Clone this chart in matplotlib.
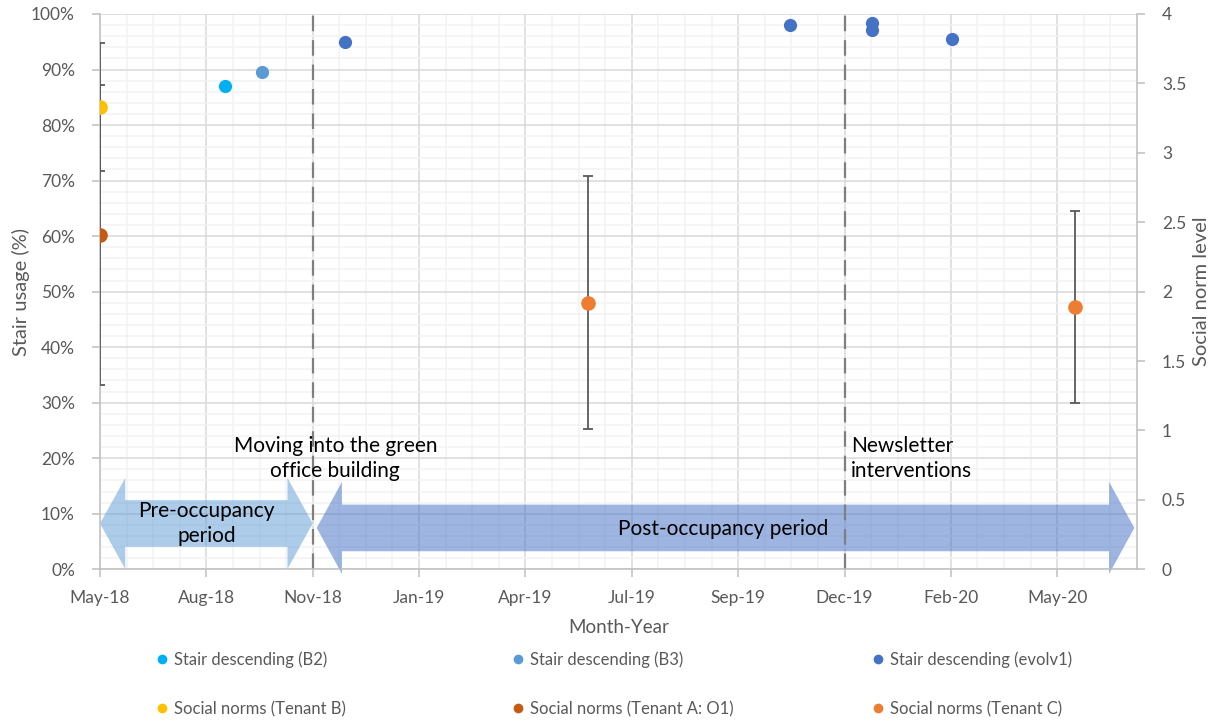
import numpy as np
import matplotlib
matplotlib.use('Agg')
import matplotlib.pyplot as plt
import matplotlib.dates as mdates
from matplotlib.patches import Polygon
from matplotlib.lines import Line2D
from matplotlib.ticker import FixedLocator, MultipleLocator, FuncFormatter

plt.rcParams['font.family'] = ['Lato', 'DejaVu Sans']

# ---- stair usage (% of trips down the stairs) ----
b2_dates = ['2018-08-30']
b2_usage = [87.0]
b3_dates = ['2018-09-27']
b3_usage = [89.6]
evolv_dates = ['2018-11-28', '2019-10-29', '2019-12-30', '2019-12-30', '2020-02-28']
evolv_usage = [95.0, 98.1, 98.3, 97.2, 95.5]

# ---- social norm survey (mean level +/- sd) ----
tenant_b_dates = ['2018-05-28']
tenant_b_norm = [3.33]
tenant_b_sd = [0.46]
tenant_a_dates = ['2018-05-28']
tenant_a_norm = [2.41]
tenant_a_sd = [1.08]
tenant_c_dates = ['2019-05-30', '2020-05-30']
tenant_c_norm = [1.92, 1.89]
tenant_c_sd = [0.91, 0.69]

# ---- time axis / events ----
axis_start = '2018-05-28'
major_step = 80   # days
minor_step = 20   # days
axis_days = 780
move_in = '2018-11-04'
newsletter = '2019-12-09'
post_end = '2020-07-14'

grey_txt = '#595959'
axis_grey = '#BFBFBF'


def dnum(s):
    return mdates.date2num(np.datetime64(s))


def double_arrow(ax, x_left, x_right, yc, shaft, head, head_len, color, alpha):
    # left/right pointing block arrow, like the Office shape
    verts = [(x_left, yc),
             (x_left + head_len, yc + head), (x_left + head_len, yc + shaft),
             (x_right - head_len, yc + shaft), (x_right - head_len, yc + head),
             (x_right, yc),
             (x_right - head_len, yc - head), (x_right - head_len, yc - shaft),
             (x_left + head_len, yc - shaft), (x_left + head_len, yc - head)]
    p = Polygon(verts, closed=True, facecolor=color, edgecolor='none', alpha=alpha,
                clip_on=False, zorder=1)
    ax.add_patch(p)


def to_dates(lst):
    return np.array(lst, dtype='datetime64[D]')


fig = plt.figure(figsize=(12.16, 7.21), dpi=100)
ax = fig.add_axes([100 / 1216, 1 - 569.3 / 721, 1037 / 1216, 555.3 / 721])
ax2 = ax.twinx()

x0 = dnum(axis_start)
ax.set_xlim(x0, x0 + axis_days)
ax.set_ylim(0, 100)
ax2.set_ylim(0, 4)

ax.xaxis.set_major_locator(FixedLocator(x0 + np.arange(0, axis_days, major_step)))
ax.xaxis.set_minor_locator(FixedLocator(x0 + np.arange(0, axis_days + 1, minor_step)))
ax.xaxis.set_major_formatter(mdates.DateFormatter('%b-%y'))
ax.yaxis.set_major_locator(MultipleLocator(10))
ax.yaxis.set_minor_locator(MultipleLocator(2))
ax.yaxis.set_major_formatter(FuncFormatter(lambda v, p: f'{v:.0f}%'))
ax2.yaxis.set_major_locator(MultipleLocator(0.5))
ax2.yaxis.set_major_formatter(FuncFormatter(lambda v, p: f'{v:g}'))

ax.set_axisbelow(True)
ax.grid(which='major', color='#D9D9D9', lw=1.1)
ax.grid(which='minor', color='#F2F2F2', lw=1.1)

for a in (ax, ax2):
    for side in ('top', 'left', 'right', 'bottom'):
        a.spines[side].set_visible(False)
ax.spines['left'].set_visible(True)
ax.spines['bottom'].set_visible(True)
ax2.spines['right'].set_visible(True)
for sp in (ax.spines['left'], ax.spines['bottom'], ax2.spines['right']):
    sp.set_color(axis_grey)
    sp.set_linewidth(1.1)

ax.tick_params(which='major', color=axis_grey, length=6, width=1.1,
               labelcolor=grey_txt, labelsize=12.5)
ax.tick_params(which='minor', length=0)
ax.tick_params(axis='x', pad=9)
ax.tick_params(axis='y', pad=12)
ax2.tick_params(color=axis_grey, length=6, width=1.1, labelcolor=grey_txt,
                labelsize=12.5, pad=12)

ax.set_ylabel('Stair usage (%)', color=grey_txt, fontsize=14.5)
ax.yaxis.set_label_coords(-70 / 1037, 0.5)
ax.set_xlabel('Month-Year', color=grey_txt, fontsize=13.5, labelpad=9)
ax2.set_ylabel('Social norm level', color=grey_txt, fontsize=14.5)
ax2.yaxis.set_label_coords(1093 / 1037, 0.5)

# event markers
for ev in (move_in, newsletter):
    ax.axvline(dnum(ev), color='#7F7F7F', lw=1.6, ls=(0, (7, 4)), zorder=2)

# occupancy period arrows
head_len = 19
double_arrow(ax, x0, dnum(move_in), 8.25, 4.2, 8.2, head_len, '#5B9BD5', 0.5)
double_arrow(ax, dnum(move_in) + 3, dnum(post_end), 7.45, 4.2, 8.3, head_len, '#4472C4', 0.52)

txt_kw = dict(color='black', fontsize=15, linespacing=1.3, zorder=5)
ax.text((x0 + dnum(move_in)) / 2, 8.25, 'Pre-occupancy\nperiod', ha='center', va='center', **txt_kw)
ax.text((dnum(move_in) + dnum(post_end)) / 2, 7.2, 'Post-occupancy period',
        ha='center', va='center', **txt_kw)
ax.text(dnum(move_in) + 17, 20, 'Moving into the green\noffice building',
        ha='center', va='center', **txt_kw)
ax.text(dnum(newsletter) + 5, 20, 'Newsletter\ninterventions',
        ha='left', va='center', **txt_kw)

# stair usage points (left axis)
mk = dict(marker='o', ls='none', ms=9.5, mew=0, zorder=4)
ax.plot(to_dates(b2_dates), b2_usage, color='#00B0F0', **mk)
ax.plot(to_dates(b3_dates), b3_usage, color='#5B9BD5', **mk)
ax.plot(to_dates(evolv_dates), evolv_usage, color='#4472C4', **mk)

# social norm points (right axis)
eb = dict(fmt='o', ms=9.5, ecolor='#595959', elinewidth=1.3,
          capsize=3.5, capthick=1.3, zorder=4)
ax2.errorbar(to_dates(tenant_b_dates), tenant_b_norm, yerr=tenant_b_sd, color='#FFC000', **eb)
ax2.errorbar(to_dates(tenant_a_dates), tenant_a_norm, yerr=tenant_a_sd, color='#C55A11', **eb)
ax2.errorbar(to_dates(tenant_c_dates), tenant_c_norm, yerr=tenant_c_sd, color='#ED7D31', **eb)

# legend: three columns of two entries
cols = [[('Stair descending (B2)', '#00B0F0'), ('Social norms (Tenant B)', '#FFC000')],
        [('Stair descending (B3)', '#5B9BD5'), ('Social norms (Tenant A: O1)', '#C55A11')],
        [('Stair descending (evolv1)', '#4472C4'), ('Social norms (Tenant C)', '#ED7D31')]]
col_x = [157, 513, 873]
for cx, entries in zip(col_x, cols):
    handles = [Line2D([], [], marker='o', ls='none', ms=7, mew=0, color=c) for _, c in entries]
    fig.legend(handles, [l for l, _ in entries], loc='center left',
               bbox_to_anchor=(cx / 1216, 1 - 684 / 721), frameon=False,
               fontsize=12, labelcolor=grey_txt, handlelength=0.6, handletextpad=0.4,
               labelspacing=2.0, borderpad=0, borderaxespad=0)

fig.savefig('out.png', dpi=100)
